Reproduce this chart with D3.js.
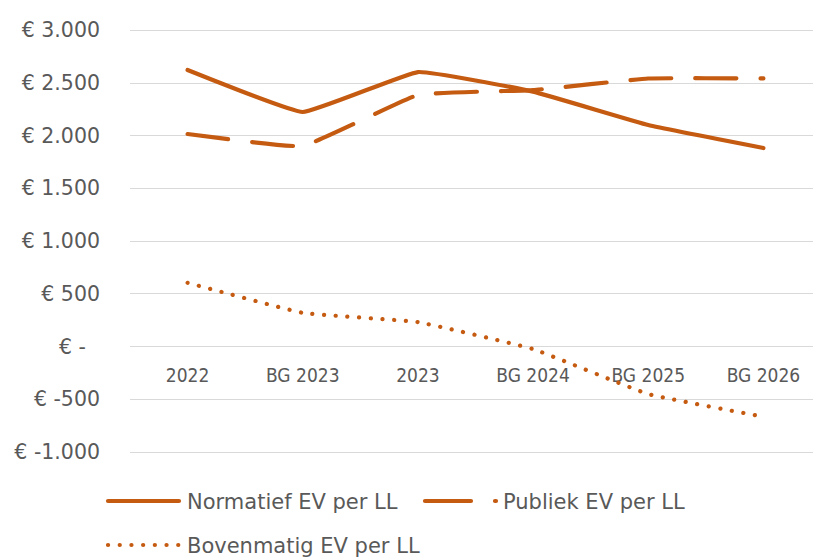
<!DOCTYPE html>
<html><head><meta charset="utf-8">
<script src="https://cdn.jsdelivr.net/npm/d3@7"></script>
<style>body{margin:0;background:#fff;overflow:hidden}text{font-family:"DejaVu Sans",sans-serif;fill:#595959}</style>
</head><body><svg id="c" width="813" height="559"></svg>
<script>
const categories = ["2022","BG 2023","2023","BG 2024","BG 2025","BG 2026"];
const normatief = [2620, 2222, 2601, 2415, 2098, 1880];
const publiek = [2013, 1899, 2383, 2430, 2540, 2540];
const bovenmatig = [601, 316, 228, -28, -455, -670];
const yTicks = [3000, 2500, 2000, 1500, 1000, 500, 0, -500, -1000];
const yTickLabels = ["€ 3.000","€ 2.500","€ 2.000","€ 1.500","€ 1.000","€ 500","€ -","€ -500","€ -1.000"];
const seriesNames = ["Normatief EV per LL", "Publiek EV per LL", "Bovenmatig EV per LL"];

const color = "#C55A11";
const svg = d3.select("#c");
const x = d3.scalePoint().domain(categories).range([130, 821]).padding(0.5);
const y = d3.scaleLinear().domain([-1000, 3000]).range([451.5, 30]);

svg.append("g").selectAll("line").data(yTicks).join("line")
  .attr("x1", 130).attr("x2", 813)
  .attr("y1", d => Math.round(y(d)) + 0.5).attr("y2", d => Math.round(y(d)) + 0.5)
  .attr("stroke", "#d9d9d9").attr("stroke-width", 1.2);

svg.append("g").selectAll("text").data(yTicks).join("text")
  .attr("x", d => d === 0 ? 86 : 100).attr("y", d => y(d)).attr("dy", "0.36em")
  .attr("text-anchor", "end").attr("font-size", 20.5)
  .text((d, i) => yTickLabels[i]);

svg.append("g").selectAll("text").data(categories).join("text")
  .attr("x", d => x(d)).attr("y", 375).attr("dy", "0.36em")
  .attr("text-anchor", "middle").attr("font-size", 19)
  .style("font-family", "'DejaVu Sans Condensed','DejaVu Sans',sans-serif")
  .text(d => d);

const line = d3.line().x((d, i) => x(categories[i])).y(d => y(d)).curve(d3.curveCardinal.tension(0.7));
const styles = [
  {data: normatief, dash: null},
  {data: publiek, dash: "41,24"},
  {data: bovenmatig, dash: "0.1,11.6"}
];
styles.forEach(s => {
  svg.append("path").attr("d", line(s.data)).attr("fill", "none")
    .attr("stroke", color).attr("stroke-width", 4.2).attr("stroke-linecap", "round")
    .attr("stroke-linejoin", "round").attr("stroke-dasharray", s.dash);
});

const legend = [
  {x: 108, y: 501, i: 0, tx: 187},
  {x: 425, y: 501, i: 1, tx: 503},
  {x: 108, y: 545, i: 2, tx: 187}
];
legend.forEach(l => {
  const s = styles[l.i];
  svg.append("line").attr("x1", l.x).attr("x2", l.x + 71).attr("y1", l.y).attr("y2", l.y)
    .attr("stroke", color).attr("stroke-width", 4.2).attr("stroke-linecap", "round")
    .attr("stroke-dasharray", l.i === 1 ? "46,24" : s.dash);
  svg.append("text").attr("x", l.tx).attr("y", l.y).attr("dy", "0.36em")
    .attr("font-size", 21).text(seriesNames[l.i]);
});
</script></body></html>
